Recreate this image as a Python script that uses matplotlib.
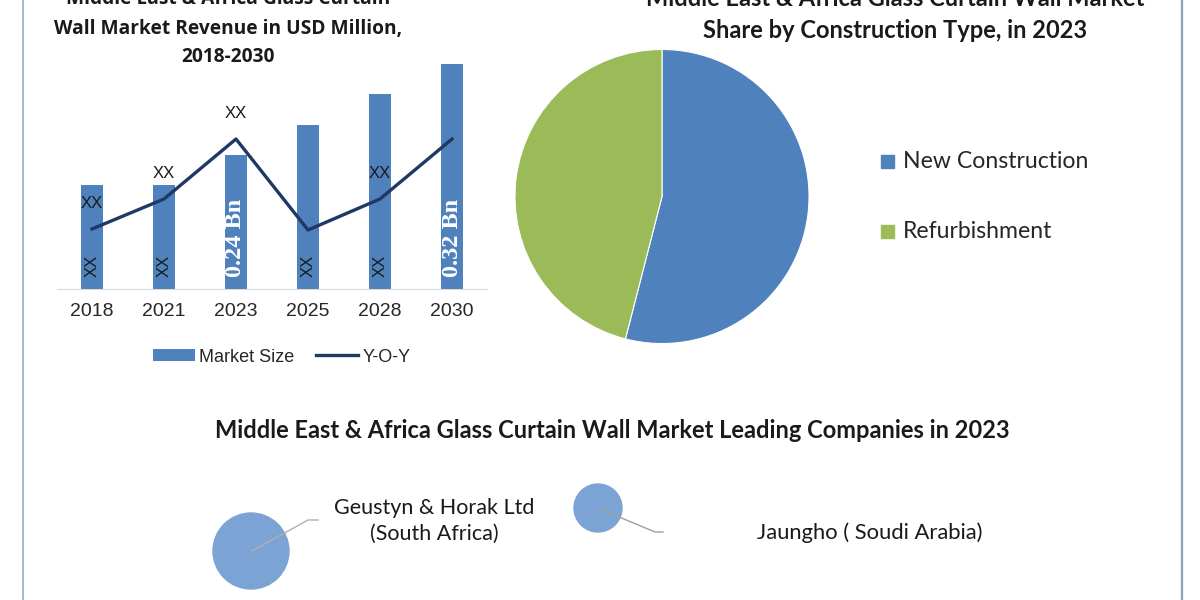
import matplotlib.pyplot as plt
from matplotlib.patches import Circle

# Market revenue chart (bar heights and Y-O-Y, relative units)
years = ['2018', '2021', '2023', '2025', '2028', '2030']
market_size = [104, 104, 134, 164, 195, 225]
yoy = [60, 90, 150, 59, 90, 150]
bar_labels = ['XX', 'XX', '0.24 Bn', 'XX', 'XX', '0.32 Bn']
yoy_labels = ['XX', 'XX', 'XX', '', 'XX', '']

# Share by construction type, 2023
segments = ['New Construction', 'Refurbishment']
shares = [54, 46]

# Leading companies (bubble chart)
companies = ['Geustyn & Horak Ltd\n(South Africa)', 'Jaungho ( Soudi Arabia)']
bubble_x = [251, 598]
bubble_y = [551, 508]
bubble_r = [38, 24]

W, H = 1200, 600
BLUE = '#4f81bd'
GREEN = '#9bbb59'
NAVY = '#1f3864'
TXT = '#1a1a1a'


def fx(x):
    return x / W


def fy(y):
    return 1 - y / H


fig = plt.figure(figsize=(12, 6), dpi=100)
fig.patch.set_facecolor('white')

# background overlay in pixel coordinates (borders + bubbles)
bg = fig.add_axes([0, 0, 1, 1])
bg.set_xlim(0, W)
bg.set_ylim(H, 0)
bg.axis('off')
bg.axvline(23, color='#9db3cc', lw=1.3)
bg.axvline(1182, color='#8fa3b8', lw=1.6)

# ---- bar + line chart ----
ax = fig.add_axes([fx(57), fy(289), fx(430), 249 / H])
x = list(range(len(years)))
bars = ax.bar(x, market_size, width=0.306, color=BLUE, label='Market Size', zorder=2)
line, = ax.plot(x, yoy, color=NAVY, lw=2.4, label='Y-O-Y', zorder=3)
ax.set_xlim(-0.486, len(years) - 1 + 0.486)
ax.set_ylim(0, 249)
ax.set_xticks(x)
ax.set_xticklabels(years, fontsize=14, family='Liberation Sans', color='#262626')
ax.tick_params(axis='x', length=0, pad=10)
ax.set_yticks([])
for s in ['top', 'right', 'left']:
    ax.spines[s].set_visible(False)
ax.spines['bottom'].set_color('#d9d9d9')
ax.patch.set_alpha(0)

for i, lab in enumerate(bar_labels):
    if lab == 'XX':
        ax.text(i, 12, lab, rotation=90, ha='center', va='bottom', fontsize=12,
                family='Liberation Sans', color=TXT, zorder=4)
    else:
        ax.text(i, 12, lab, rotation=90, ha='center', va='bottom', fontsize=17.5,
                family='Liberation Serif', fontweight='bold', color='white', zorder=4)
for i, lab in enumerate(yoy_labels):
    if lab:
        ax.annotate(lab, (i, yoy[i]), xytext=(0, 18), textcoords='offset points',
                    ha='center', va='center', fontsize=12, family='Liberation Sans',
                    color=TXT, zorder=4)

ax.legend([bars, line], ['Market Size', 'Y-O-Y'], loc='center',
          bbox_to_anchor=(fx(282), fy(357)), bbox_transform=fig.transFigure,
          ncol=2, frameon=False, prop={'family': 'Liberation Sans', 'size': 13},
          handlelength=2.3, handleheight=0.6, handletextpad=0.25, columnspacing=1.2,
          labelcolor='#262626')

title_font = dict(family='Open Sans', fontweight='bold', fontsize=13.8, color=TXT,
                  ha='center', va='center')
fig.text(fx(228), fy(-1), 'Middle East & Africa Glass Curtain', **title_font)
fig.text(fx(228), fy(29), 'Wall Market Revenue in USD Million,', **title_font)
fig.text(fx(228), fy(57), '2018-2030', **title_font)

# ---- pie chart ----
pax = fig.add_axes([fx(513.5), fy(345), fx(297), 297 / H])
pax.pie(shares, colors=[BLUE, GREEN], startangle=90, counterclock=False, radius=1,
        wedgeprops=dict(edgecolor='white', linewidth=0.8))
pax.set_xlim(-1.01, 1.01)
pax.set_ylim(-1.01, 1.01)
pax.set_aspect('equal')

cal_bold = dict(family='Lato', fontweight='bold', fontsize=17, color=TXT,
                ha='center', va='center')
fig.text(fx(895), fy(-2), 'Middle East & Africa Glass Curtain Wall Market', **cal_bold)
fig.text(fx(895), fy(31), 'Share by Construction Type, in 2023', **cal_bold)

for lab, col, yy in zip(segments, [BLUE, GREEN], [161, 231]):
    bg.add_patch(plt.Rectangle((881, yy - 6.5), 13, 13, color=col))
    bg.text(903, yy, lab, fontsize=16.6, family='Lato', color='#262626', ha='left', va='center')

# ---- leading companies ----
fig.text(fx(612), fy(430), 'Middle East & Africa Glass Curtain Wall Market Leading Companies in 2023',
         **cal_bold)

for cx, cy, r in zip(bubble_x, bubble_y, bubble_r):
    bg.add_patch(Circle((cx, cy), r, color='#7ba4d5', zorder=2))

bg.plot([252, 308, 318], [551, 520, 520], color='#b0b0b0', lw=1, zorder=3)
bg.plot([600, 655, 663], [509, 532, 532], color='#a0a0a0', lw=1, zorder=3)

bg.text(434, 521, companies[0], fontsize=15.5, family='Lato', color=TXT,
        ha='center', va='center', linespacing=1.4)
bg.text(870, 533, companies[1], fontsize=15.8, family='Lato', color=TXT,
        ha='center', va='center')

fig.savefig('out.png', dpi=100)
